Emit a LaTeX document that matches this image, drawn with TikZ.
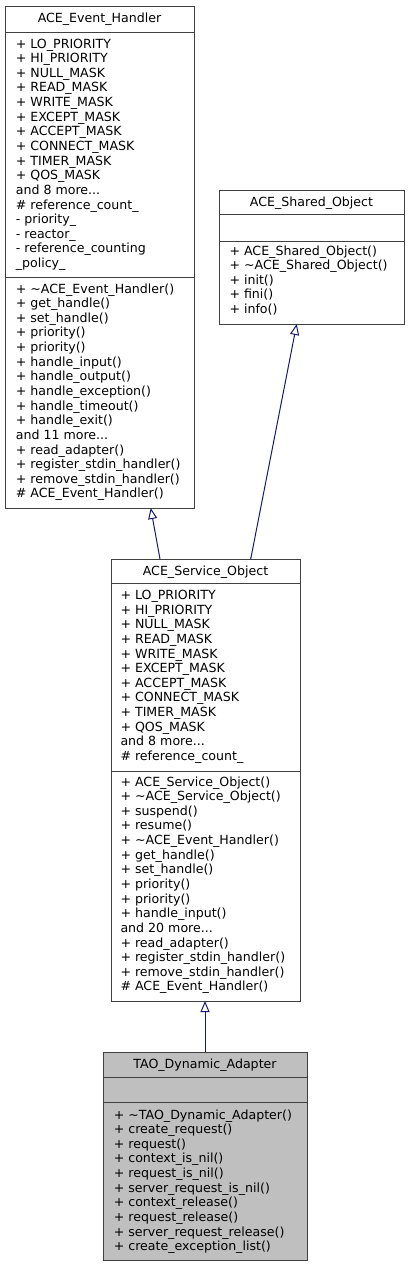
\documentclass[tikz,border=0pt]{standalone}
\usepackage{fontspec}
\setmainfont{DejaVu Sans}
\usetikzlibrary{arrows.meta,calc}
\definecolor{edgeblue}{HTML}{191970}
\definecolor{boxline}{HTML}{404040}
\definecolor{hilite}{HTML}{BFBFBF}
\tikzset{
  umlbox/.style={draw=boxline, line width=1pt, fill=white, inner sep=0pt, outer sep=0pt, anchor=north west},
  sepline/.style={draw=boxline, line width=1pt},
  txt/.style={inner sep=0pt, outer sep=0pt, anchor=base west, font=\fontsize{12.6}{14.64}\selectfont},
  ttl/.style={txt, anchor=base},
  inherit/.style={draw=edgeblue, line width=1pt, -{Triangle[open, length=11pt, width=9pt]}}
}
\newcommand\threedots{...}
\newcommand\umlrows[4]{%
  \foreach \t [count=\i from 0] in {#4} {\node[txt] (#1-\i) at ({#2},{#3+\i*14.64}) {\t};}}
\begin{document}
\begin{tikzpicture}[x=1pt,y=-1pt]
\useasboundingbox (0,0) rectangle (409,1267);
% ACE_Event_Handler
\node[umlbox, minimum width=189pt, minimum height=502pt] (eh) at (5,6) {};
\draw[sepline] (5,32) -- (194,32);
\draw[sepline] (5,277) -- (194,277);
\node[ttl] (eh-title) at (99.5,22.5) {ACE\_Event\_Handler};
\umlrows{eha}{15.8}{48}{+ LO\_PRIORITY, + HI\_PRIORITY, + NULL\_MASK, + READ\_MASK, + WRITE\_MASK, + EXCEPT\_MASK, + ACCEPT\_MASK, + CONNECT\_MASK, + TIMER\_MASK, + QOS\_MASK, and 8 more\threedots, \# reference\_count\_, - priority\_, - reactor\_, - reference\_counting, \_policy\_}
\umlrows{ehm}{15.8}{293}{+ \textasciitilde ACE\_Event\_Handler(), + get\_handle(), + set\_handle(), + priority(), + priority(), + handle\_input(), + handle\_output(), + handle\_exception(), + handle\_timeout(), + handle\_exit(), and 11 more\threedots, + read\_adapter(), + register\_stdin\_handler(), + remove\_stdin\_handler(), \# ACE\_Event\_Handler()}
% ACE_Shared_Object
\node[umlbox, minimum width=185pt, minimum height=134pt] (sh) at (219,190) {};
\draw[sepline] (219,214) -- (404,214);
\draw[sepline] (219,241) -- (404,241);
\node[ttl] (sh-title) at (311.5,206) {ACE\_Shared\_Object};
\umlrows{shm}{229.5}{255}{+ ACE\_Shared\_Object(), + \textasciitilde ACE\_Shared\_Object(), + init(), + fini(), + info()}
% ACE_Service_Object
\node[umlbox, minimum width=189pt, minimum height=442pt] (so) at (111,559) {};
\draw[sepline] (111,583) -- (300,583);
\draw[sepline] (111,771) -- (300,771);
\node[ttl] (so-title) at (205.5,575) {ACE\_Service\_Object};
\umlrows{soa}{120.5}{599.5}{+ LO\_PRIORITY, + HI\_PRIORITY, + NULL\_MASK, + READ\_MASK, + WRITE\_MASK, + EXCEPT\_MASK, + ACCEPT\_MASK, + CONNECT\_MASK, + TIMER\_MASK, + QOS\_MASK, and 8 more\threedots, \# reference\_count\_}
\umlrows{som}{120.5}{786}{+ ACE\_Service\_Object(), + \textasciitilde ACE\_Service\_Object(), + suspend(), + resume(), + \textasciitilde ACE\_Event\_Handler(), + get\_handle(), + set\_handle(), + priority(), + priority(), + handle\_input(), and 20 more\threedots, + read\_adapter(), + register\_stdin\_handler(), + remove\_stdin\_handler(), \# ACE\_Event\_Handler()}
% TAO_Dynamic_Adapter
\node[umlbox, fill=hilite, minimum width=204pt, minimum height=208pt] (tao) at (103,1052) {};
\draw[sepline] (103,1077) -- (307,1077);
\draw[sepline] (103,1102) -- (307,1102);
\node[ttl] (tao-title) at (205,1068) {TAO\_Dynamic\_Adapter};
\umlrows{taom}{113.8}{1119}{+ \textasciitilde TAO\_Dynamic\_Adapter(), + create\_request(), + request(), + context\_is\_nil(), + request\_is\_nil(), + server\_request\_is\_nil(), + context\_release(), + request\_release(), + server\_request\_release(), + create\_exception\_list()}
% connectors
\coordinate (so-l) at ($(so.north west)+(49,0)$);
\coordinate (so-r) at ($(so.north west)+(139.7,0)$);
\coordinate (eh-b) at ($(eh.south west)+(145.7,0)$);
\coordinate (sh-b) at ($(sh.south west)+(77.7,0)$);
\coordinate (so-b) at (tao.north |- so.south);
\draw[inherit] (tao.north) -- (so-b);
\draw[inherit] (so-l) -- (eh-b);
\draw[inherit] (so-r) -- (sh-b);
\end{tikzpicture}
\end{document}
